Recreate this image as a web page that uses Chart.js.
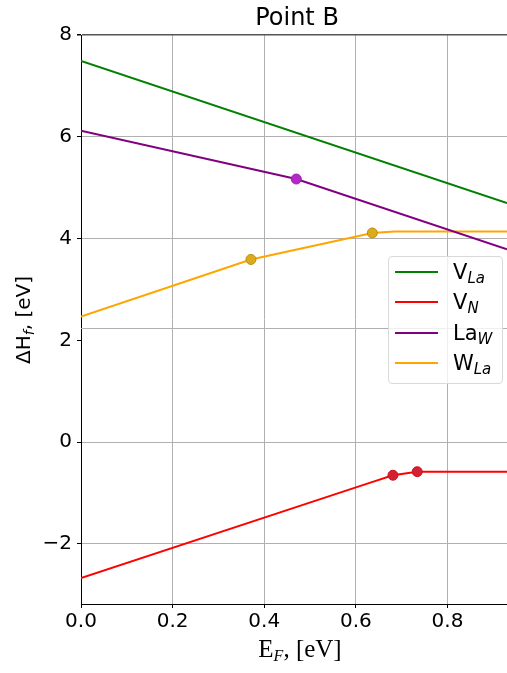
<!DOCTYPE html>
<html>
<head>
<meta charset="utf-8">
<script src="https://cdn.jsdelivr.net/npm/chart.js@4/dist/chart.umd.min.js"></script>
<style>
  html, body { margin: 0; padding: 0; background: #fff; }
  #wrap { position: relative; width: 507px; height: 673px; overflow: hidden; background: #fff; }
  #c { position: absolute; left: 0; top: 0; }
  .txt { position: absolute; white-space: nowrap; color: #000; }
  .sans { font-family: "DejaVu Sans", sans-serif; }
  .lg-line { position: absolute; height: 2px; }
  sub.it { font-style: italic; }
</style>
</head>
<body>
<div id="wrap">
  <canvas id="c" width="513" height="673"></canvas>
  <div class="txt sans" id="title" style="font-size:24px; line-height:24px; top:5px; left:297px; transform:translateX(-50%);">Point B</div>
  <div class="txt" id="xlab" style="font-family:'Liberation Serif', serif; font-size:25px; line-height:25px; top:636px; left:300px; transform:translateX(-50%);">E<sub class="it" style="font-size:16px; vertical-align:-4px;">F</sub>, [eV]</div>
  <div class="txt sans" id="ylab" style="font-size:20px; line-height:20px; left:26px; top:320px; transform:translate(-50%,-50%) rotate(-90deg);">ΔH<sub class="it" style="font-size:14px; vertical-align:-4px;">f</sub>, [eV]</div>
  <div id="legend" style="position:absolute; left:388px; top:256px; width:113px; height:126px; border:1px solid #d9d9d9; border-radius:4px; background:rgba(255,255,255,0.8);"></div>
</div>
<script>
// ---- data ----
const seriesNames = ["V", "V", "La", "W"];
const seriesSubs  = ["La", "N", "W", "La"];
const lineColors  = ["#008000", "#ff0000", "#800080", "#ffa500"];

const vLaX = [0, 0.93];
const vLaY = [7.49, 4.70];

const vNX = [0, 0.63, 0.681, 0.734, 0.93];
const vNY = [-2.67, -0.80, -0.65, -0.58, -0.58];

const laWX = [0, 0.470, 0.93];
const laWY = [6.12, 5.17, 3.79];

const wLaX = [0, 0.371, 0.636, 0.684, 0.93];
const wLaY = [2.47, 3.59, 4.11, 4.14, 4.14];

const laWMarkX = [0.470];
const laWMarkY = [5.17];
const wLaMarkX = [0.371, 0.636];
const wLaMarkY = [3.59, 4.11];
const vNMarkX = [0.681, 0.734];
const vNMarkY = [-0.65, -0.58];

const xTicks = [0, 0.2, 0.4, 0.6, 0.8];
const yTicks = [-2, 0, 2, 4, 6, 8];
const xMin = 0, xMax = 0.93;
const yMin = -3.18, yMax = 8;
const shiftedGridValue = 2.24;

// ---- helpers ----
const pts = (xs, ys) => xs.map((x, i) => ({ x: x, y: ys[i] }));

function lineDs(label, xs, ys, color) {
  return { label: label, data: pts(xs, ys), showLine: true, borderColor: color,
           backgroundColor: color, borderWidth: 2, pointRadius: 0, pointHoverRadius: 0,
           tension: 0, order: 2 };
}
function markDs(xs, ys, fill, edge) {
  return { label: "", data: pts(xs, ys), showLine: false, pointRadius: 5,
           pointBackgroundColor: fill, pointBorderColor: edge, pointBorderWidth: 1,
           order: 1 };
}

// legend (HTML so subscripts stay real text)
const lg = document.getElementById('wrap');
const rowCenters = [272, 302, 333, 363];
seriesNames.forEach((n, i) => {
  const l = document.createElement('div');
  l.className = 'lg-line';
  l.style.left = '395px'; l.style.width = '43px';
  l.style.top = (rowCenters[i] - 1) + 'px';
  l.style.background = lineColors[i];
  lg.appendChild(l);
  const t = document.createElement('div');
  t.className = 'txt sans';
  t.style.fontSize = '21px'; t.style.lineHeight = '30px';
  t.style.left = '453px'; t.style.top = (rowCenters[i] - 15) + 'px';
  t.innerHTML = n + '<sub class="it" style="font-size:15px; vertical-align:-4px;">' + seriesSubs[i] + '</sub>';
  lg.appendChild(t);
});

const extraGrid = {
  id: 'extraGrid',
  beforeDatasetsDraw(chart) {
    const { ctx, chartArea, scales } = chart;
    const y = Math.round(scales.y.getPixelForValue(shiftedGridValue)) + 0.5;
    ctx.save();
    ctx.strokeStyle = '#b0b0b0';
    ctx.lineWidth = 1;
    ctx.beginPath();
    ctx.moveTo(chartArea.left, y);
    ctx.lineTo(chartArea.right, y);
    ctx.stroke();
    ctx.restore();
  }
};

new Chart(document.getElementById('c'), {
  type: 'scatter',
  data: {
    datasets: [
      lineDs('VLa', vLaX, vLaY, lineColors[0]),
      lineDs('VN', vNX, vNY, lineColors[1]),
      lineDs('LaW', laWX, laWY, lineColors[2]),
      lineDs('WLa', wLaX, wLaY, lineColors[3]),
      markDs(laWMarkX, laWMarkY, '#b428c8', '#9a1fae'),
      markDs(wLaMarkX, wLaMarkY, '#dcaa1c', '#b8900e'),
      markDs(vNMarkX, vNMarkY, '#d42030', '#c81424')
    ]
  },
  options: {
    responsive: false,
    animation: false,
    devicePixelRatio: 1,
    layout: { padding: { top: 35, left: 0, right: 0, bottom: 0 } },
    plugins: { legend: { display: false }, title: { display: false }, tooltip: { enabled: false } },
    scales: {
      x: {
        type: 'linear', min: xMin, max: xMax,
        afterBuildTicks: s => { s.ticks = xTicks.map(v => ({ value: v })); },
        afterFit: s => { s.height = 69; },
        ticks: { font: { family: 'DejaVu Sans', size: 20 }, color: '#000', padding: 2,
                 maxRotation: 0, autoSkip: false, callback: v => Number(v).toFixed(1) },
        grid: { color: '#b0b0b0', lineWidth: 1, tickLength: 4, tickColor: '#000' },
        border: { display: true, color: '#000', width: 1 }
      },
      y: {
        type: 'linear', min: yMin, max: yMax,
        afterBuildTicks: s => { s.ticks = yTicks.map(v => ({ value: v })); },
        afterFit: s => { s.width = 81; },
        ticks: { font: { family: 'DejaVu Sans', size: 20 }, color: '#000', padding: 5,
                 autoSkip: false, callback: v => String(v).replace('-', '\u2212') },
        grid: {
          color: c => (c.tick && c.tick.value === 2) ? 'rgba(0,0,0,0)' :
                      (c.tick && c.tick.value === 8) ? '#555' : '#b0b0b0',
          lineWidth: c => (c.tick && c.tick.value === 8) ? 1.5 : 1,
          tickLength: 4, tickColor: '#000'
        },
        border: { display: true, color: '#000', width: 1 }
      }
    }
  },
  plugins: [extraGrid]
});
</script>
</body>
</html>
